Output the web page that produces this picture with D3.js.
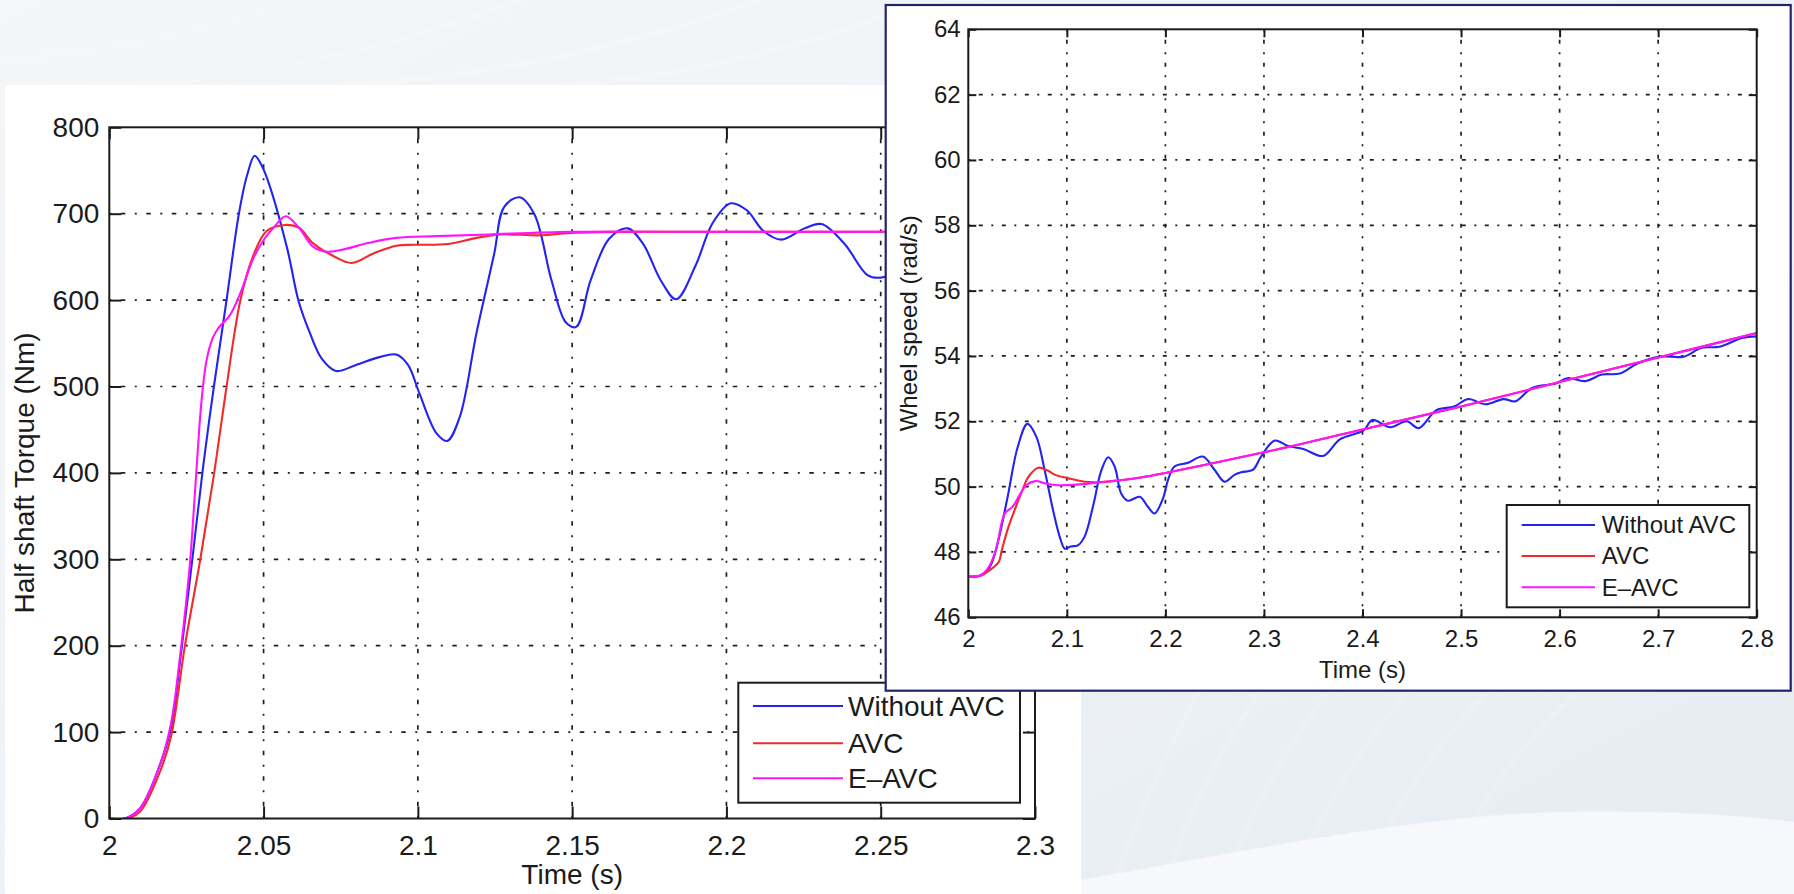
<!DOCTYPE html>
<html>
<head>
<meta charset="utf-8">
<script src="https://cdn.jsdelivr.net/npm/d3@7"></script>
<style>
  html, body { margin: 0; padding: 0; background: #eef2f6; }
  svg { display: block; }
  text { font-family: "Liberation Sans", Arial, Helvetica, sans-serif; fill: #1b1b1b; }
</style>
</head>
<body>
<svg id="fig" width="1794" height="894"></svg>
<script>
// ---------- Half-shaft torque response ----------
const torqueTicksX = [2, 2.05, 2.1, 2.15, 2.2, 2.25, 2.3];
const torqueTickLabelsX = ["2", "2.05", "2.1", "2.15", "2.2", "2.25", "2.3"];
const torqueTicksY = [0, 100, 200, 300, 400, 500, 600, 700, 800];
const torqueTickLabelsY = ["0", "100", "200", "300", "400", "500", "600", "700", "800"];

const torqueTimeNoAvc = [2.000, 2.005, 2.010, 2.0164, 2.020, 2.0232, 2.0269, 2.0305, 2.0339, 2.038, 2.042, 2.0447, 2.0471, 2.0495, 2.052, 2.0577, 2.0614, 2.065, 2.0689, 2.0735, 2.080, 2.0875, 2.093, 2.0968, 2.1005, 2.106, 2.1095, 2.1136, 2.119, 2.1247, 2.128, 2.133, 2.1378, 2.1433, 2.148, 2.1513, 2.156, 2.162, 2.168, 2.173, 2.1787, 2.1837, 2.19, 2.1955, 2.2014, 2.2066, 2.212, 2.2178, 2.2253, 2.2308, 2.2383, 2.2457, 2.25, 2.26];
const torqueNoAvc = [0, 0, 12, 62, 105, 190, 300, 410, 500, 600, 700, 745, 767, 755, 732, 659, 598, 562, 532, 518, 525, 534, 537, 525, 492, 446, 437, 465, 562, 653, 708, 719, 699, 623, 574, 569, 623, 671, 683, 665, 623, 601, 640, 689, 712, 704, 680, 670, 683, 688, 665, 629, 626, 640];

const torqueTimeAvc = [2.000, 2.006, 2.010, 2.0164, 2.020, 2.0245, 2.0295, 2.034, 2.038, 2.0425, 2.0465, 2.051, 2.057, 2.0614, 2.066, 2.0726, 2.0786, 2.0856, 2.093, 2.0987, 2.1098, 2.119, 2.1266, 2.1396, 2.1508, 2.17, 2.2, 2.3];
const torqueAvc = [0, 0, 8, 54, 95, 200, 300, 400, 500, 600, 650, 680, 687, 684, 666, 651, 643, 654, 663, 664, 665, 672, 676, 675, 678, 679, 679, 679];

const torqueTimeEAvc = [2.000, 2.005, 2.010, 2.0164, 2.020, 2.023, 2.026, 2.028, 2.0298, 2.0315, 2.0335, 2.0354, 2.039, 2.0428, 2.0465, 2.0503, 2.054, 2.0572, 2.0614, 2.066, 2.0707, 2.0763, 2.0838, 2.093, 2.106, 2.1228, 2.15, 2.2, 2.3];
const torqueEAvc = [0, 0, 12, 62, 110, 190, 290, 390, 480, 530, 556, 568, 582, 611, 647, 671, 687, 697, 684, 662, 656, 659, 666, 672, 674, 676, 679, 679, 679];

// ---------- Wheel speed response ----------
const speedTicksX = [2, 2.1, 2.2, 2.3, 2.4, 2.5, 2.6, 2.7, 2.8];
const speedTickLabelsX = ["2", "2.1", "2.2", "2.3", "2.4", "2.5", "2.6", "2.7", "2.8"];
const speedTicksY = [46, 48, 50, 52, 54, 56, 58, 60, 62, 64];
const speedTickLabelsY = ["46", "48", "50", "52", "54", "56", "58", "60", "62", "64"];

const speedTimeNoAvc = [2.000, 2.012, 2.022, 2.030, 2.040, 2.050, 2.060, 2.069, 2.0775, 2.086, 2.0927, 2.098, 2.104, 2.111, 2.118, 2.1265, 2.135, 2.142, 2.1486, 2.155, 2.162, 2.174, 2.182, 2.189, 2.1976, 2.2026, 2.209, 2.223, 2.238, 2.250, 2.260, 2.270, 2.277, 2.289, 2.297, 2.311, 2.324, 2.340, 2.360, 2.377, 2.401, 2.410, 2.428, 2.445, 2.457, 2.475, 2.493, 2.507, 2.525, 2.543, 2.555, 2.572, 2.596, 2.608, 2.626, 2.643, 2.661, 2.679, 2.702, 2.726, 2.744, 2.762, 2.785, 2.800];
const speedNoAvc = [47.25, 47.27, 47.55, 48.3, 49.7, 51.2, 51.92, 51.53, 50.5, 49.28, 48.47, 48.1, 48.17, 48.2, 48.47, 49.39, 50.5, 50.9, 50.61, 49.8, 49.57, 49.69, 49.39, 49.18, 49.64, 50.2, 50.61, 50.73, 50.92, 50.51, 50.15, 50.36, 50.44, 50.52, 50.92, 51.41, 51.25, 51.15, 50.94, 51.45, 51.72, 52.04, 51.82, 52.0, 51.79, 52.34, 52.45, 52.68, 52.52, 52.68, 52.61, 53.02, 53.16, 53.32, 53.23, 53.43, 53.46, 53.77, 53.98, 53.98, 54.25, 54.28, 54.55, 54.6];

const speedTimeAvc = [2.000, 2.012, 2.022, 2.031, 2.034, 2.040, 2.047, 2.055, 2.061, 2.071, 2.080, 2.088, 2.101, 2.118, 2.135, 2.152, 2.175, 2.2, 2.3, 2.4, 2.5, 2.6, 2.7, 2.8];
const speedAvc = [47.25, 47.27, 47.45, 47.7, 48.06, 48.7, 49.28, 49.9, 50.3, 50.58, 50.5, 50.36, 50.26, 50.15, 50.14, 50.19, 50.28, 50.42, 51.05, 51.75, 52.45, 53.2, 53.95, 54.7];

const speedTimeEAvc = [2.000, 2.012, 2.020, 2.028, 2.037, 2.045, 2.052, 2.059, 2.068, 2.078, 2.088, 2.11, 2.13, 2.152, 2.175, 2.2, 2.3, 2.4, 2.5, 2.6, 2.7, 2.8];
const speedEAvc = [47.25, 47.28, 47.5, 48.06, 49.18, 49.39, 49.74, 50.05, 50.17, 50.1, 50.05, 50.06, 50.12, 50.19, 50.28, 50.42, 51.05, 51.75, 52.45, 53.2, 53.95, 54.7];

const seriesNames = ["Without AVC", "AVC", "E\u2013AVC"];
const seriesColors = ["#2323f2", "#f22a2a", "#ff14ff"];

const svg = d3.select("#fig");
const defs = svg.append("defs");

// ---------- page background ----------
const bgGrad = defs.append("linearGradient").attr("id", "bgGrad")
  .attr("x1", 0).attr("y1", 0).attr("x2", 1).attr("y2", 1);
bgGrad.append("stop").attr("offset", "0%").attr("stop-color", "#f4f6f8");
bgGrad.append("stop").attr("offset", "55%").attr("stop-color", "#eef2f6");
bgGrad.append("stop").attr("offset", "100%").attr("stop-color", "#e6ecf2");
svg.append("rect").attr("width", 1794).attr("height", 894).attr("fill", "url(#bgGrad)");

// faint streaks of the backdrop
const streaks = svg.append("g").attr("fill", "none").attr("stroke", "#ffffff").attr("stroke-width", 6).attr("opacity", 0.16);
[[0, 60, 300, 0], [120, 85, 520, 0], [340, 85, 760, 0], [560, 85, 900, 10]].forEach(([x0, y0, x1, y1]) => {
  streaks.append("path").attr("d", `M${x0},${y0} Q${(x0 + x1) / 2},${y0 - 10} ${x1},${y1}`);
});
[1110, 1160, 1220, 1290, 1360, 1440].forEach((x0, i) => {
  streaks.append("path").attr("d", `M${x0},894 Q${x0 + 40},780 ${x0 + 90 + i * 10},690`);
});
svg.append("path")
  .attr("d", "M1081,894 L1081,880 C1250,850 1420,815 1560,812 C1660,810 1740,815 1794,822 L1794,894 Z")
  .attr("fill", "#f6f8fb");

// ---------- generic MATLAB-style axes ----------
function drawPlot(root, cfg) {
  const x = d3.scaleLinear().domain(cfg.xDomain).range([cfg.left, cfg.right]);
  const y = d3.scaleLinear().domain(cfg.yDomain).range([cfg.bottom, cfg.top]);
  const g = root.append("g");

  // dotted grid
  const grid = g.append("g").attr("stroke", "#1e1e1e").attr("stroke-width", 1.7)
    .attr("stroke-dasharray", cfg.dash);
  grid.selectAll("line.gx")
    .data(cfg.xTicks.filter(d => d > cfg.xDomain[0] && d < cfg.xDomain[1]))
    .join("line").attr("class", "gx")
    .attr("x1", d => x(d)).attr("x2", d => x(d))
    .attr("y1", cfg.top).attr("y2", cfg.bottom);
  grid.selectAll("line.gy")
    .data(cfg.yTicks.filter(d => d > cfg.yDomain[0] && d < cfg.yDomain[1]))
    .join("line").attr("class", "gy")
    .attr("y1", d => y(d)).attr("y2", d => y(d))
    .attr("x1", cfg.left).attr("x2", cfg.right);

  // data curves
  const clipId = cfg.id + "Clip";
  defs.append("clipPath").attr("id", clipId).append("rect")
    .attr("x", cfg.left).attr("y", cfg.top)
    .attr("width", cfg.right - cfg.left).attr("height", cfg.bottom - cfg.top);
  const line = d3.line().x(d => x(d[0])).y(d => y(d[1])).curve(d3.curveCatmullRom.alpha(0.5));
  const lines = g.append("g").attr("clip-path", `url(#${clipId})`);
  cfg.series.forEach((s, i) => {
    lines.append("path")
      .datum(d3.zip(s.t, s.v))
      .attr("fill", "none")
      .attr("stroke", seriesColors[i])
      .attr("stroke-width", 2.1)
      .attr("stroke-linejoin", "round")
      .attr("d", line);
  });

  // axes with inward ticks on all four sides
  const axisStyle = sel => sel.attr("color", "#1b1b1b")
    .attr("font-size", cfg.font)
    .attr("font-family", "'Liberation Sans', Arial, Helvetica, sans-serif");

  const bottom = g.append("g").attr("transform", `translate(0,${cfg.bottom})`)
    .call(d3.axisBottom(x).tickValues(cfg.xTicks).tickFormat((d, i) => cfg.xLabels[i])
      .tickSizeInner(-cfg.tick).tickSizeOuter(0).tickPadding(cfg.padX))
    .call(axisStyle);
  const left = g.append("g").attr("transform", `translate(${cfg.left},0)`)
    .call(d3.axisLeft(y).tickValues(cfg.yTicks).tickFormat((d, i) => cfg.yLabels[i])
      .tickSizeInner(-cfg.tick).tickSizeOuter(0).tickPadding(cfg.padY))
    .call(axisStyle);
  const top = g.append("g").attr("transform", `translate(0,${cfg.top})`)
    .call(d3.axisTop(x).tickValues(cfg.xTicks).tickFormat("")
      .tickSizeInner(-cfg.tick).tickSizeOuter(0))
    .call(axisStyle);
  const right = g.append("g").attr("transform", `translate(${cfg.right},0)`)
    .call(d3.axisRight(y).tickValues(cfg.yTicks).tickFormat("")
      .tickSizeInner(-cfg.tick).tickSizeOuter(0))
    .call(axisStyle);
  [bottom, left, top, right].forEach(a => {
    a.select(".domain").remove();
    a.selectAll(".tick line").attr("stroke-width", 2);
    a.selectAll(".tick text").attr("fill", "#1b1b1b");
  });

  g.append("rect")
    .attr("x", cfg.left).attr("y", cfg.top)
    .attr("width", cfg.right - cfg.left).attr("height", cfg.bottom - cfg.top)
    .attr("fill", "none").attr("stroke", "#1b1b1b").attr("stroke-width", 2);

  // axis titles
  g.append("text")
    .attr("x", (cfg.left + cfg.right) / 2).attr("y", cfg.xTitleY)
    .attr("text-anchor", "middle").attr("dy", "0.35em")
    .attr("font-size", cfg.font).text("Time (s)");
  g.append("text")
    .attr("transform", `translate(${cfg.yTitleX},${(cfg.top + cfg.bottom) / 2}) rotate(-90)`)
    .attr("text-anchor", "middle").attr("dy", "0.35em")
    .attr("font-size", cfg.font).text(cfg.yTitle);

  // legend
  const L = cfg.legend;
  const lg = g.append("g");
  lg.append("rect").attr("x", L.x).attr("y", L.y).attr("width", L.w).attr("height", L.h)
    .attr("fill", "#ffffff").attr("stroke", "#1b1b1b").attr("stroke-width", 2);
  seriesNames.forEach((name, i) => {
    const ly = L.rows[i];
    lg.append("line").attr("x1", L.x1).attr("x2", L.x2).attr("y1", ly).attr("y2", ly)
      .attr("stroke", seriesColors[i]).attr("stroke-width", 2.1);
    lg.append("text").attr("x", L.tx).attr("y", ly).attr("dy", "0.35em")
      .attr("font-size", cfg.font).text(name);
  });
}

// ---------- torque figure (behind) ----------
svg.append("rect").attr("x", 5).attr("y", 85).attr("width", 1076).attr("height", 809).attr("fill", "#ffffff");
drawPlot(svg, {
  id: "torque",
  xDomain: [2, 2.3], yDomain: [0, 800],
  left: 109.3, right: 1035, top: 127.3, bottom: 818.5,
  xTicks: torqueTicksX, xLabels: torqueTickLabelsX,
  yTicks: torqueTicksY, yLabels: torqueTickLabelsY,
  font: 28, tick: 12, padX: 16.5, padY: 10,
  dash: "2,9.5,4.5,9.5",
  xTitleY: 873.7, yTitleX: 24, yTitle: "Half shaft Torque (Nm)",
  series: [
    { t: torqueTimeNoAvc, v: torqueNoAvc },
    { t: torqueTimeAvc, v: torqueAvc },
    { t: torqueTimeEAvc, v: torqueEAvc }
  ],
  legend: { x: 738.3, y: 682.7, w: 281.7, h: 120, x1: 753, x2: 843, tx: 848, rows: [706, 743.3, 778.3] }
});

// ---------- wheel speed figure (front) ----------
svg.append("rect").attr("x", 885.7).attr("y", 5).attr("width", 905).attr("height", 685.7)
  .attr("fill", "#ffffff").attr("stroke", "#23236c").attr("stroke-width", 2.2);
drawPlot(svg, {
  id: "speed",
  xDomain: [2, 2.8], yDomain: [46, 64],
  left: 968.3, right: 1756.7, top: 29.3, bottom: 617.3,
  xTicks: speedTicksX, xLabels: speedTickLabelsX,
  yTicks: speedTicksY, yLabels: speedTickLabelsY,
  font: 24, tick: 8, padX: 12.7, padY: 7.6,
  dash: "2,8.5,4,8.5",
  xTitleY: 669.5, yTitleX: 909, yTitle: "Wheel speed (rad/s)",
  series: [
    { t: speedTimeNoAvc, v: speedNoAvc },
    { t: speedTimeAvc, v: speedAvc },
    { t: speedTimeEAvc, v: speedEAvc }
  ],
  legend: { x: 1506.7, y: 505, w: 242.6, h: 102.3, x1: 1521.7, x2: 1595, tx: 1601.7, rows: [525, 556, 587.3] }
});
</script>
</body>
</html>
